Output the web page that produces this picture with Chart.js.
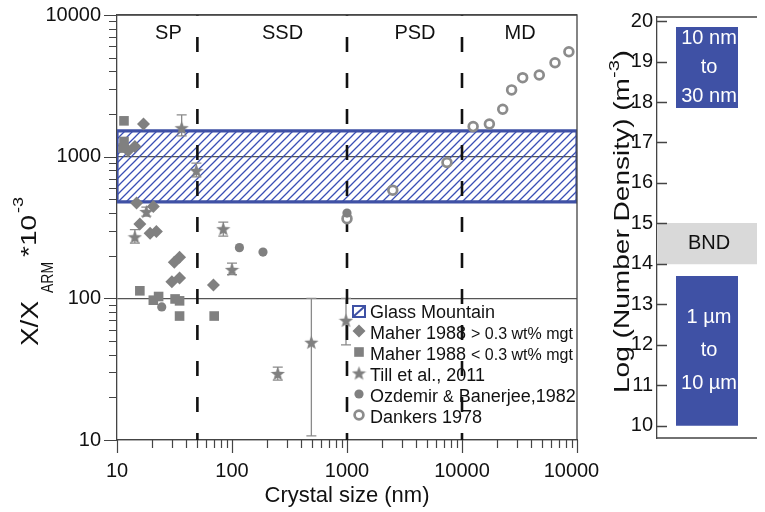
<!DOCTYPE html>
<html>
<head>
<meta charset="utf-8">
<script src="https://cdn.jsdelivr.net/npm/chart.js@4/dist/chart.umd.min.js"></script>
<style>
  body { margin: 0; background: #fff; }
  #wrap { position: relative; width: 765px; height: 512px; }
  #sizeChart { position: absolute; left: 0; top: 0; }
  #densityChart { position: absolute; left: 600px; top: 0; }
</style>
</head>
<body>
<div id="wrap">
  <canvas id="sizeChart" width="600" height="512"></canvas>
  <canvas id="densityChart" width="165" height="512"></canvas>
</div>
<script>
// Maher 1988, > 0.3 wt% magnetite
const maherHighSize = [17, 14.3, 12.5, 14.8, 20.7, 15.8, 19.4, 22, 31.5, 35, 30, 35, 69];
const maherHighRatio = [1700, 1180, 1100, 470, 445, 335, 288, 296, 180, 195, 131, 139, 124];
// Maher 1988, < 0.3 wt% magnetite
const maherLowSize = [11.5, 11.5, 11.3, 15.8, 20.7, 23, 32, 35, 35, 70];
const maherLowRatio = [1790, 1280, 1150, 113, 97, 103, 99, 96, 75, 75];
// Till et al. 2011, with error range
const tillSize = [36.5, 49, 18, 14.3, 84, 100, 250, 490, 980];
const tillRatio = [1600, 800, 410, 272, 310, 160, 29.5, 49, 70];
const tillLow = [1400, 720, 380, 245, 275, 147, 26.5, 10.7, 47];
const tillHigh = [1970, 900, 440, 305, 345, 177, 32.7, 100, 100];
// Ozdemir & Banerjee 1982
const ozdemirSize = [24.5, 116, 186, 1000];
const ozdemirRatio = [87, 228, 212, 400];
// Dankers 1978
const dankersSize = [1000, 2500, 7400, 12500, 17300, 22600, 27000, 33700, 47000, 64400, 85000];
const dankersRatio = [365, 580, 910, 1630, 1700, 2160, 2960, 3610, 3770, 4600, 5500];
// Glass Mountain band
const glassRange = [480, 1520];

// domain state boundaries and names
const domainBounds = [50, 1000, 10000];
const domainLabels = ['SP', 'SSD', 'PSD', 'MD'];
const domainCenters = [28, 275, 3900, 32000];

const xTickValues = [10, 100, 1000, 10000, 100000];
const yTickValues = [10, 100, 1000, 10000];

// number density panel
const densityBands = [[17.85, 19.85], [14, 15], [10, 13.7]];
const densityText = [['10 nm', 'to', '30 nm'], ['BND'], ['1 µm', 'to', '10 µm']];
const densityTicks = [10, 11, 12, 13, 14, 15, 16, 17, 18, 19, 20];

const FONT = "'Liberation Sans', Arial, sans-serif";
const GRAY = '#808080';
const BLUE = '#3f51a5';
const AXIS = '#444';

const pts = (xs, ys) => xs.map((x, i) => ({x: x, y: ys[i]}));

function logTicks(fromExp, toExp) {
  const out = [];
  for (let e = fromExp; e < toExp; e++) {
    for (let m = 1; m < 10; m++) out.push({value: m * Math.pow(10, e)});
  }
  out.push({value: Math.pow(10, toExp)});
  return out;
}

function starImage(size, color) {
  const c = document.createElement('canvas');
  c.width = c.height = size;
  const g = c.getContext('2d');
  const r = size / 2, ri = r * 0.42;
  g.fillStyle = color;
  g.beginPath();
  for (let i = 0; i < 10; i++) {
    const rad = i % 2 ? ri : r;
    const a = -Math.PI / 2 + i * Math.PI / 5;
    g.lineTo(r + rad * Math.cos(a), r + 0.8 + rad * Math.sin(a));
  }
  g.closePath();
  g.fill();
  return c;
}

function hatch(color) {
  const c = document.createElement('canvas');
  c.width = c.height = 8;
  const g = c.getContext('2d');
  g.strokeStyle = color;
  g.lineWidth = 1.3;
  g.beginPath();
  g.moveTo(0, 8); g.lineTo(8, 0);
  g.moveTo(-4, 4); g.lineTo(4, -4);
  g.moveTo(4, 12); g.lineTo(12, 4);
  g.stroke();
  return g.createPattern(c, 'repeat');
}

// draws text along a rotated baseline, stretched to span screen rows y0 (start) .. y1 (end)
function verticalText(ctx, text, font, baseX, y0, y1) {
  ctx.save();
  ctx.font = font;
  ctx.textAlign = 'left';
  ctx.textBaseline = 'alphabetic';
  const w = ctx.measureText(text).width;
  ctx.translate(baseX, y0);
  ctx.rotate(-Math.PI / 2);
  ctx.scale((y0 - y1) / w, 1);
  ctx.fillText(text, 0, 0);
  ctx.restore();
}

// moves the plot area onto fixed pixel edges
function pinArea(chart, pad, box) {
  for (let k = 0; k < 3; k++) {
    const ca = chart.chartArea;
    pad.top += box.top - ca.top;
    pad.bottom += ca.bottom - box.bottom;
    pad.left += box.left - ca.left;
    pad.right += ca.right - box.right;
    chart.update();
  }
}

const starPoint = starImage(15, GRAY);

const markerStyles = [
  {pointStyle: 'rectRot', pointRadius: 6.5, backgroundColor: GRAY, borderWidth: 0},
  {pointStyle: 'rect', pointRadius: 6.8, backgroundColor: GRAY, borderWidth: 0},
  {pointStyle: starPoint, pointRadius: 7, backgroundColor: GRAY, borderWidth: 0},
  {pointStyle: 'circle', pointRadius: 4.6, backgroundColor: GRAY, borderWidth: 0},
  {pointStyle: 'circle', pointRadius: 4.4, backgroundColor: '#fff', borderColor: '#8c8c8c', borderWidth: 2.7}
];

function dashedLine(x) {
  return {
    data: [{x: x, y: 10}, {x: x, y: 10000}],
    showLine: true, borderColor: '#111', borderWidth: 2.6,
    borderDash: [15, 21], borderDashOffset: 8, pointRadius: 0, order: 5
  };
}

const legendItems = [
  [{t: 'Glass Mountain'}],
  [{t: 'Maher 1988 '}, {t: '> 0.3 wt% mgt', small: true}],
  [{t: 'Maher 1988 '}, {t: '< 0.3 wt% mgt', small: true}],
  [{t: 'Till et al., 2011'}],
  [{t: 'Ozdemir '}, {t: '&', small: true}, {t: ' Banerjee,1982'}],
  [{t: 'Dankers 1978'}]
];

const sizeDecor = {
  id: 'sizeDecor',
  afterDatasetDraw(chart, args) {
    if (args.index !== 7) return;
    // error bars for Till et al. sit under the stars
    const ctx = chart.ctx, xs = chart.scales.x, ys = chart.scales.y;
    ctx.save();
    ctx.strokeStyle = '#8a8a8a';
    ctx.lineWidth = 1.3;
    tillSize.forEach((s, i) => {
      const px = xs.getPixelForValue(s);
      const lo = ys.getPixelForValue(tillLow[i]);
      const hi = ys.getPixelForValue(tillHigh[i]);
      ctx.beginPath();
      ctx.moveTo(px, lo); ctx.lineTo(px, hi);
      ctx.moveTo(px - 5, lo); ctx.lineTo(px + 5, lo);
      ctx.moveTo(px - 5, hi); ctx.lineTo(px + 5, hi);
      ctx.stroke();
    });
    ctx.restore();
  },
  afterDraw(chart) {
    const ctx = chart.ctx, ca = chart.chartArea;
    const xs = chart.scales.x, ys = chart.scales.y;
    ctx.save();
    // frame top and right
    ctx.strokeStyle = AXIS;
    ctx.lineWidth = 1.3;
    ctx.beginPath();
    ctx.moveTo(ca.left, ca.top); ctx.lineTo(ca.right, ca.top); ctx.lineTo(ca.right, ca.bottom);
    ctx.stroke();
    // major and minor ticks
    ctx.lineWidth = 1.2;
    ctx.beginPath();
    xs.ticks.forEach(t => {
      const px = Math.round(xs.getPixelForValue(t.value)) + 0.5;
      const len = xTickValues.includes(t.value) ? 13 : 8;
      ctx.moveTo(px, ca.bottom); ctx.lineTo(px, ca.bottom + len);
    });
    ys.ticks.forEach(t => {
      const py = Math.round(ys.getPixelForValue(t.value)) + 0.5;
      const len = yTickValues.includes(t.value) ? 13 : 8;
      ctx.moveTo(ca.left - len, py); ctx.lineTo(ca.left, py);
    });
    ctx.stroke();

    // domain names
    ctx.fillStyle = '#111';
    ctx.font = '20px ' + FONT;
    ctx.textAlign = 'center';
    ctx.textBaseline = 'middle';
    domainLabels.forEach((lab, i) => {
      ctx.fillText(lab, xs.getPixelForValue(domainCenters[i]), ca.top + 18);
    });

    // legend
    const lx = 359, rows = [313, 334, 355, 376, 397, 418];
    ctx.textAlign = 'left';
    ctx.textBaseline = 'middle';
    legendItems.forEach((item, i) => {
      const y = rows[i];
      if (i === 0) {
        ctx.fillStyle = '#fff';
        ctx.fillRect(lx - 6, y - 7, 12, 11);
        ctx.strokeStyle = BLUE;
        ctx.lineWidth = 2;
        ctx.strokeRect(lx - 6, y - 7, 12, 11);
        ctx.beginPath();
        ctx.moveTo(lx - 5, y + 3); ctx.lineTo(lx + 5, y - 6);
        ctx.stroke();
      } else {
        const st = markerStyles[i - 1];
        ctx.fillStyle = st.backgroundColor;
        ctx.strokeStyle = st.borderColor || st.backgroundColor;
        ctx.lineWidth = st.borderWidth;
        Chart.helpers.drawPoint(ctx, {
          pointStyle: st.pointStyle, radius: st.pointRadius, borderWidth: st.borderWidth, rotation: 0
        }, lx, y - 3);
      }
      let x = lx + 11;
      ctx.fillStyle = '#111';
      item.forEach(seg => {
        ctx.font = (seg.small ? '16px ' : '18px ') + FONT;
        ctx.fillText(seg.t, x, y + (seg.small ? 1 : 0));
        x += ctx.measureText(seg.t).width;
      });
    });

    // y axis title: X/X with ARM subscript, times 10 to the -3
    ctx.fillStyle = '#111';
    verticalText(ctx, 'X/X', '23px ' + FONT, 38, 346, 301);
    verticalText(ctx, 'ARM', '16px ' + FONT, 53, 293, 262);
    verticalText(ctx, '*10', '22px ' + FONT, 36, 257, 215);
    verticalText(ctx, '-3', '14px ' + FONT, 23, 213, 197);
    ctx.restore();
  }
};

const sizePad = {left: 0, right: 23, top: 15, bottom: 0};
const sizeChart = new Chart(document.getElementById('sizeChart'), {
  type: 'scatter',
  data: {
    datasets: [
      Object.assign({label: 'Maher 1988 > 0.3 wt% mgt', data: pts(maherHighSize, maherHighRatio), order: 0}, markerStyles[0]),
      Object.assign({label: 'Maher 1988 < 0.3 wt% mgt', data: pts(maherLowSize, maherLowRatio), order: 0}, markerStyles[1]),
      Object.assign({label: 'Till et al., 2011', data: pts(tillSize, tillRatio), order: 0}, markerStyles[2]),
      Object.assign({label: 'Ozdemir & Banerjee,1982', data: pts(ozdemirSize, ozdemirRatio), order: 0}, markerStyles[3]),
      Object.assign({label: 'Dankers 1978', data: pts(dankersSize, dankersRatio), order: 0}, markerStyles[4]),
      dashedLine(domainBounds[0]),
      dashedLine(domainBounds[1]),
      dashedLine(domainBounds[2]),
      {
        label: 'Glass Mountain',
        data: [
          {x: 10, y: glassRange[0]}, {x: 10, y: glassRange[1]},
          {x: 100000, y: glassRange[1]}, {x: 100000, y: glassRange[0]},
          {x: 10, y: glassRange[0]}
        ],
        showLine: true, fill: 'shape', backgroundColor: hatch('#3a4fb5'),
        borderColor: BLUE, borderWidth: 3.2, pointRadius: 0, order: 10
      }
    ]
  },
  options: {
    responsive: false,
    animation: false,
    events: [],
    layout: {padding: sizePad},
    plugins: {legend: {display: false}, tooltip: {enabled: false}},
    scales: {
      x: {
        type: 'logarithmic', min: 10, max: 100000,
        afterBuildTicks: s => { s.ticks = logTicks(1, 5); },
        afterFit: s => { s.height = 72; s.paddingLeft = 0; s.paddingRight = 0; s.paddingTop = 0; s.paddingBottom = 0; },
        ticks: {
          autoSkip: false, maxRotation: 0, padding: 19, color: '#111',
          font: {family: FONT, size: 20},
          callback: v => xTickValues.includes(v) ? String(v) : ''
        },
        grid: {drawOnChartArea: false, drawTicks: false},
        border: {color: AXIS, width: 1.3},
        title: {display: true, text: 'Crystal size (nm)', color: '#111', font: {family: FONT, size: 22}, padding: {top: 0, bottom: 3}}
      },
      y: {
        type: 'logarithmic', min: 10, max: 10000,
        afterBuildTicks: s => { s.ticks = logTicks(1, 4); },
        afterFit: s => { s.width = 117; s.paddingTop = 0; s.paddingBottom = 0; },
        ticks: {
          autoSkip: false, padding: 16, color: '#111',
          font: {family: FONT, size: 20},
          callback: v => yTickValues.includes(v) ? String(v) : ''
        },
        grid: {
          drawTicks: false, lineWidth: 1.2,
          color: c => (c.tick && yTickValues.includes(c.tick.value)) ? '#555' : 'rgba(0,0,0,0)'
        },
        border: {color: AXIS, width: 1.3}
      }
    }
  },
  plugins: [sizeDecor]
});
pinArea(sizeChart, sizePad, {left: 117, right: 577, top: 15, bottom: 440});

const densityDecor = {
  id: 'densityDecor',
  afterDraw(chart) {
    const ctx = chart.ctx, ca = chart.chartArea, ys = chart.scales.y;
    ctx.save();
    ctx.strokeStyle = AXIS;
    ctx.lineWidth = 1.3;
    ctx.beginPath();
    ctx.moveTo(ca.left, ca.top); ctx.lineTo(ca.right, ca.top);
    ctx.moveTo(ca.left, ca.bottom); ctx.lineTo(ca.right, ca.bottom);
    densityTicks.forEach(v => {
      const py = Math.round(ys.getPixelForValue(v)) + 0.5;
      ctx.moveTo(ca.left, py); ctx.lineTo(ca.left + 10, py);
    });
    ctx.stroke();

    ctx.font = '20px ' + FONT;
    ctx.textAlign = 'center';
    ctx.textBaseline = 'middle';
    densityText.forEach((lines, i) => {
      const bar = chart.getDatasetMeta(i).data[0];
      const top = Math.min(bar.y, bar.base), h = Math.abs(bar.base - bar.y);
      const gap = Math.min(33, h / 2.8);
      const mid = top + h / 2;
      ctx.fillStyle = lines.length > 1 ? '#fff' : '#111';
      lines.forEach((ln, k) => {
        ctx.fillText(ln, bar.x + 2, mid + (k - (lines.length - 1) / 2) * gap);
      });
    });

    // axis title with superscript exponent
    ctx.fillStyle = '#111';
    verticalText(ctx, 'Log (Number Density) (m', '22px ' + FONT, 29, 393, 78);
    verticalText(ctx, '-3', '14px ' + FONT, 19, 78, 60);
    verticalText(ctx, ')', '22px ' + FONT, 29, 60, 50);
    ctx.restore();
  }
};

const densityPad = {left: 0, right: 8, top: 17, bottom: 74};
const densityChart = new Chart(document.getElementById('densityChart'), {
  type: 'bar',
  data: {
    labels: [''],
    datasets: [
      {data: [densityBands[0]], backgroundColor: BLUE, barPercentage: 0.62, categoryPercentage: 1, grouped: false},
      {data: [densityBands[1]], backgroundColor: '#d9d9d9', barPercentage: 1, categoryPercentage: 1, grouped: false},
      {data: [densityBands[2]], backgroundColor: BLUE, barPercentage: 0.62, categoryPercentage: 1, grouped: false}
    ]
  },
  options: {
    responsive: false,
    animation: false,
    events: [],
    layout: {padding: densityPad},
    plugins: {legend: {display: false}, tooltip: {enabled: false}},
    scales: {
      x: {display: false},
      y: {
        min: 9.7, max: 20.1,
        afterBuildTicks: s => { s.ticks = densityTicks.map(v => ({value: v})); },
        afterFit: s => { s.width = 57; s.paddingTop = 0; s.paddingBottom = 0; },
        ticks: {padding: 4, color: '#111', font: {family: FONT, size: 20}},
        grid: {display: false, drawTicks: false},
        border: {color: AXIS, width: 1.3}
      }
    }
  },
  plugins: [densityDecor]
});
pinArea(densityChart, densityPad, {left: 57, right: 157, top: 17, bottom: 438});
</script>
</body>
</html>
